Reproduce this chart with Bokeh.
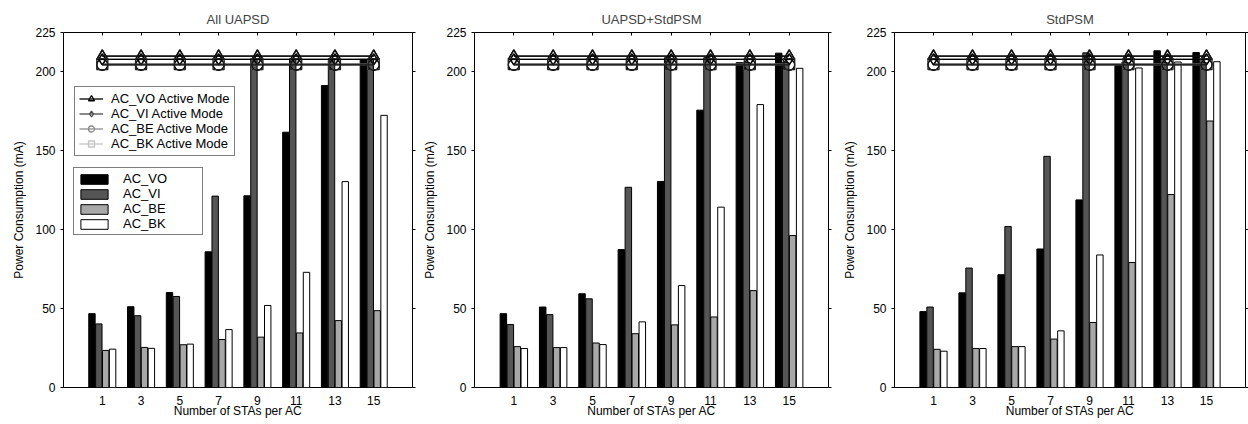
from bokeh.plotting import figure
from bokeh.models import ColumnDataSource, Legend, LegendItem, LinearAxis, FixedTicker, Range1d
from bokeh.layouts import row
from bokeh.transform import dodge
from bokeh.embed import file_html
from bokeh.resources import INLINE

stas = [1, 3, 5, 7, 9, 11, 13, 15]
titles = ["All UAPSD", "UAPSD+StdPSM", "StdPSM"]

# All UAPSD
p1_vo = [46.8, 51.2, 60.2, 86.0, 121.5, 161.8, 191.4, 208.0]
p1_vi = [40.3, 45.5, 57.7, 121.3, 208.5, 208.5, 208.5, 208.0]
p1_be = [23.5, 25.4, 27.1, 30.4, 31.9, 34.6, 42.4, 48.7]
p1_bk = [24.3, 24.8, 27.5, 36.7, 52.0, 73.0, 130.5, 172.5]
# UAPSD+StdPSM
p2_vo = [46.8, 51.0, 59.4, 87.4, 130.6, 175.8, 205.9, 211.9]
p2_vi = [39.9, 46.2, 56.2, 126.9, 209.0, 209.0, 206.0, 206.0]
p2_be = [25.9, 25.3, 28.2, 34.1, 39.7, 44.7, 61.4, 96.3]
p2_bk = [24.7, 25.3, 27.2, 41.6, 64.6, 114.3, 179.3, 202.3]
# StdPSM
p3_vo = [48.1, 60.0, 71.5, 87.8, 118.9, 204.0, 213.4, 212.3]
p3_vi = [51.0, 75.7, 102.0, 146.5, 212.1, 206.0, 206.0, 206.0]
p3_be = [24.2, 24.7, 25.9, 30.7, 41.2, 79.2, 122.3, 168.9]
p3_bk = [23.0, 24.7, 25.9, 35.9, 84.0, 202.5, 206.3, 206.5]

# Active mode reference consumption
act_vo = [210.0, 210.0, 210.0, 210.0, 210.0, 210.0, 210.0, 210.0]
act_vi = [208.0, 208.0, 208.0, 208.0, 208.0, 208.0, 208.0, 208.0]
act_be = [204.5, 204.5, 204.5, 204.5, 204.5, 204.5, 204.5, 204.5]
act_bk = [205.0, 205.0, 205.0, 205.0, 205.0, 205.0, 205.0, 205.0]

y_ticks = [0, 50, 100, 150, 200, 225]

FONT = "Liberation Sans"
bar_names = ["AC_VO", "AC_VI", "AC_BE", "AC_BK"]
bar_colors = ["#000000", "#555555", "#a8a8a8", "#ffffff"]
bar_offsets = [-0.5325, -0.1775, 0.1775, 0.5325]
legend_line_colors = ["#000000", "#4a4a4a", "#8c8c8c", "#c4c4c4"]
plot_line_colors = ["#111111", "#000000", "#000000", "#222222"]
markers = ["triangle", "diamond", "circle", "square"]


def style_axis(ax, show_labels):
    ax.axis_line_color = None
    ax.major_tick_line_color = "black"
    ax.minor_tick_line_color = None
    ax.major_label_text_font = FONT
    ax.major_label_text_color = "black"
    ax.axis_label_text_font = FONT
    ax.axis_label_text_font_style = "normal"
    ax.axis_label_text_color = "black"
    if not show_labels:
        ax.major_label_text_font_size = "0px"
        ax.major_label_text_color = None
        ax.major_label_standoff = 0


def panel(title, vo, vi, be, bk, width, bl, br, bt, bb, legend):
    p = figure(width=width, height=424, output_backend="svg", toolbar_location=None,
               x_range=Range1d(-1, 17), y_range=Range1d(0, 225),
               min_border_left=bl, min_border_right=br, min_border_top=bt, min_border_bottom=bb)
    p.title.text = title
    p.title.align = "center"
    p.title.text_font = FONT
    p.title.text_font_size = "13px"
    p.title.text_font_style = "normal"
    p.title.standoff = 11
    p.outline_line_color = "black"
    p.outline_line_width = 1
    p.grid.visible = False
    p.background_fill_color = "white"
    p.border_fill_color = "white"

    src = ColumnDataSource(dict(n=stas, vo=vo, vi=vi, be=be, bk=bk,
                                avo=act_vo, avi=act_vi, abe=act_be, abk=act_bk))
    bar_rs = []
    for key, off, col in zip(["vo", "vi", "be", "bk"], bar_offsets, bar_colors):
        r = p.vbar(x=dodge("n", off), top=key, bottom=0, width=0.33, source=src,
                   fill_color=col, line_color="black", line_width=1)
        bar_rs.append(r)

    # grey-styled series (used by the legend), overdrawn by the dark plot lines
    styled = []
    for key, col, mk in zip(["avo", "avi", "abe", "abk"], legend_line_colors, markers):
        lr = p.line(x="n", y=key, source=src, line_color=col, line_width=1.3)
        sr = p.scatter(x="n", y=key, source=src, marker=mk, size=11, fill_color=None,
                       line_color=col, line_width=1.3)
        styled.append((lr, sr))
    for key, col, mk in zip(["avo", "avi", "abe", "abk"], plot_line_colors, markers):
        p.line(x="n", y=key, source=src, line_color=col, line_width=1.3)
        p.scatter(x="n", y=key, source=src, marker=mk, size=11, fill_color=None,
                  line_color=col, line_width=1.3)

    # axes
    p.xaxis.ticker = FixedTicker(ticks=stas)
    p.yaxis.ticker = FixedTicker(ticks=y_ticks)
    p.xaxis.axis_label = "Number of STAs per AC"
    p.yaxis.axis_label = "Power Consumption (mA)"
    for ax in p.xaxis:
        style_axis(ax, True)
        ax.major_tick_in = 3
        ax.major_tick_out = 0
        ax.major_label_standoff = 8
        ax.axis_label_standoff = -4
        ax.major_label_text_font_size = "12px"
        ax.axis_label_text_font_size = "12px"
    for ax in p.yaxis:
        style_axis(ax, True)
        ax.major_tick_in = 0
        ax.major_tick_out = 3
        ax.major_label_standoff = 5
        ax.axis_label_standoff = 6
        ax.major_label_text_font_size = "12px"
        ax.axis_label_text_font_size = "12px"

    top = LinearAxis(ticker=FixedTicker(ticks=stas), major_tick_in=3, major_tick_out=0)
    style_axis(top, False)
    p.add_layout(top, "above")
    right = LinearAxis(ticker=FixedTicker(ticks=y_ticks), major_tick_in=0, major_tick_out=3)
    style_axis(right, False)
    p.add_layout(right, "right")

    if legend:
        leg1 = Legend(items=[LegendItem(label=f"{n} Active Mode", renderers=[lr, sr])
                             for n, (lr, sr) in zip(bar_names, styled)],
                      location=(11, 231))
        leg1.glyph_height = 15
        leg1.label_height = 15
        leg1.spacing = 0
        leg1.glyph_width = 24
        leg1.label_text_font_size = "13px"
        leg1.padding = 4
        leg1.label_standoff = 8
        leg2 = Legend(items=[LegendItem(label=n, renderers=[r]) for n, r in zip(bar_names, bar_rs)],
                      location=(10, 152))
        leg2.glyph_height = 12
        leg2.label_height = 12
        leg2.spacing = 0
        leg2.glyph_width = 34
        leg2.label_width = 76
        leg2.label_text_font_size = "13px"
        leg2.padding = 3
        leg2.label_standoff = 12
        for lg in (leg1, leg2):
            lg.label_text_font = FONT
            lg.label_text_color = "black"
            lg.border_line_color = "black"
            lg.border_line_width = 1.5
            lg.background_fill_color = "white"
            lg.background_fill_alpha = 1
            lg.margin = 0
            lg.click_policy = "none"
            p.add_layout(lg, "center")
    return p


p1 = panel(titles[0], p1_vo, p1_vi, p1_be, p1_bk, 420, 63, 8, 20, 37, True)
p2 = panel(titles[1], p2_vo, p2_vi, p2_be, p2_bk, 415, 54, 7, 20, 35, False)
p3 = panel(titles[2], p3_vo, p3_vi, p3_be, p3_bk, 413, 59, 3, 32, 33, False)

layout = row(p1, p2, p3, spacing=0)
open("out.html", "w").write(file_html(layout, INLINE))
